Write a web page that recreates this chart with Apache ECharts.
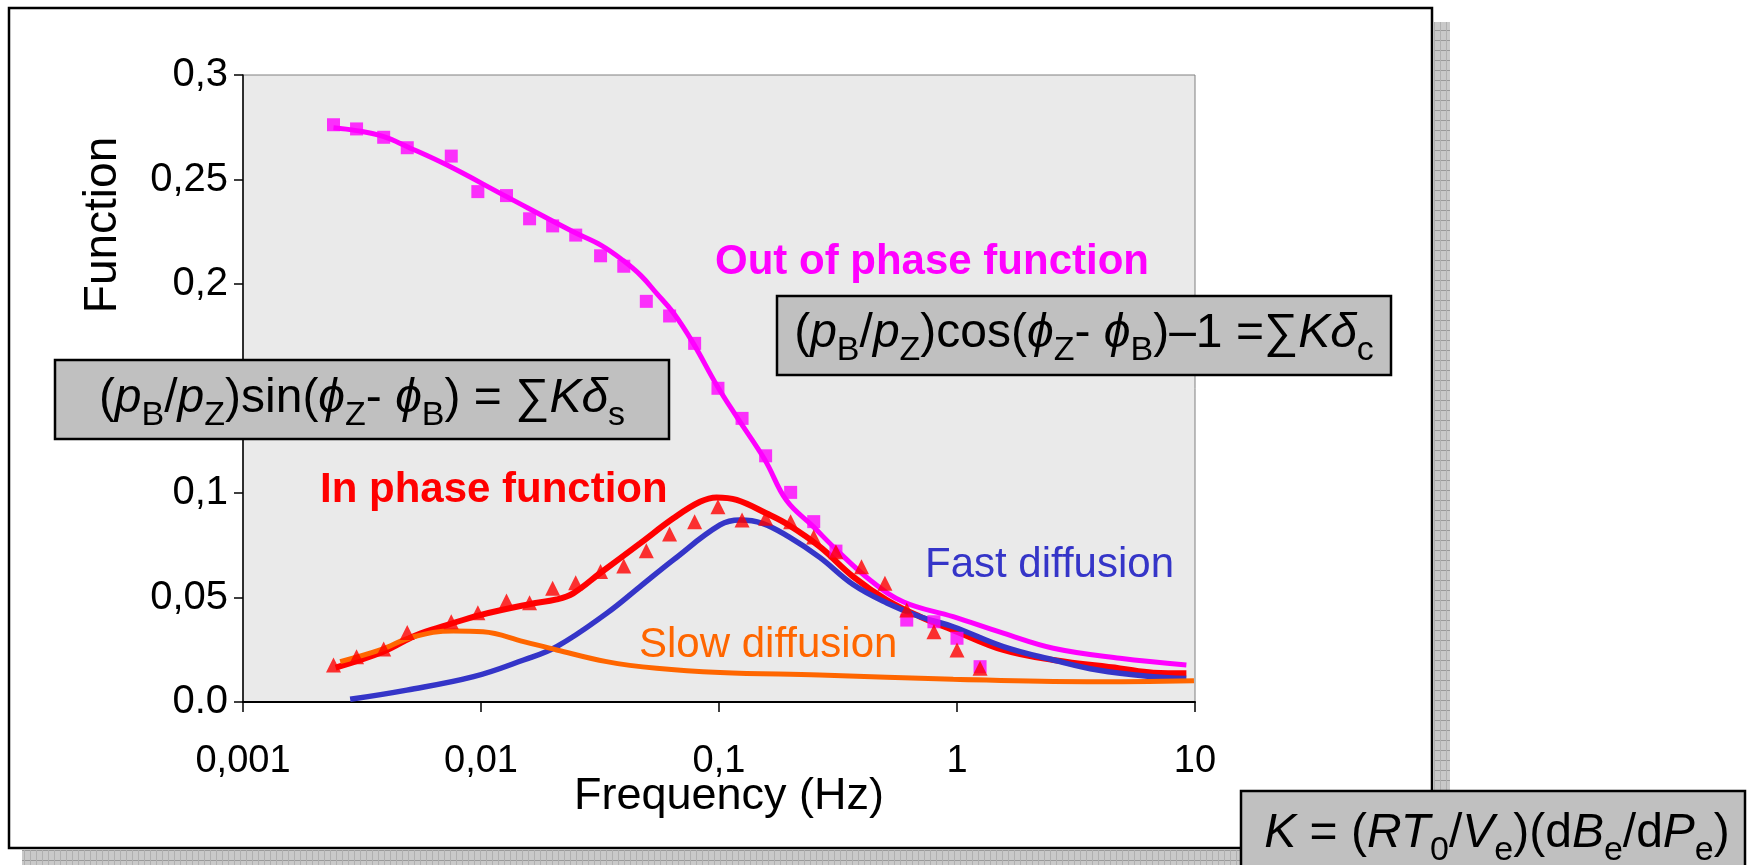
<!DOCTYPE html>
<html>
<head>
<meta charset="utf-8">
<script src="https://cdn.jsdelivr.net/npm/echarts@6/dist/echarts.min.js"></script>
<style>
  html, body { margin: 0; padding: 0; background: #ffffff; }
  #chart { width: 1747px; height: 865px; }
</style>
</head>
<body>
<div id="chart"></div>
<script>
// measured points (same frequencies for both data series)
const dataFreq = [0.0024, 0.003, 0.0039, 0.0049, 0.0075, 0.0097, 0.0128, 0.016, 0.02, 0.025, 0.0318, 0.0398, 0.0495, 0.062, 0.079, 0.099, 0.125, 0.157, 0.2, 0.25, 0.31, 0.397, 0.498, 0.615, 0.8, 1.0, 1.25];
const outPhasePoints = [0.2762, 0.2742, 0.2702, 0.2652, 0.2612, 0.2442, 0.2423, 0.2312, 0.2278, 0.2234, 0.2135, 0.2085, 0.1917, 0.1847, 0.1716, 0.1501, 0.1357, 0.1178, 0.1003, 0.0863, 0.0722, null, null, 0.0392, 0.0384, 0.0305, 0.0169];
const inPhasePoints = [0.0177, 0.0217, 0.0254, 0.0332, 0.0384, 0.0427, 0.0483, 0.0475, 0.0544, 0.0571, 0.0624, 0.0651, 0.0724, 0.0804, 0.0863, 0.0934, 0.0871, 0.0879, 0.0863, 0.079, 0.0719, 0.0647, 0.0568, 0.044, 0.0336, 0.0249, 0.0161];

// model curves
const outFitFreq = [0.0024, 0.003, 0.0039, 0.0049, 0.0072, 0.0128, 0.0244, 0.032, 0.0396, 0.047, 0.0547, 0.0643, 0.078, 0.0977, 0.1186, 0.156, 0.192, 0.249, 0.3125, 0.431, 0.594, 0.964, 1.565, 2.54, 4.84, 9.2];
const outFitVal = [0.2748, 0.2734, 0.2705, 0.2657, 0.2569, 0.2418, 0.225, 0.2185, 0.2112, 0.204, 0.1955, 0.1862, 0.1716, 0.1517, 0.1365, 0.1158, 0.0965, 0.0839, 0.0727, 0.0584, 0.048, 0.0408, 0.0329, 0.0257, 0.0209, 0.0177];

const inFitFreq = [0.00245, 0.00388, 0.00537, 0.00718, 0.0099, 0.0161, 0.0208, 0.0244, 0.0316, 0.0466, 0.0643, 0.0832, 0.0977, 0.1186, 0.158, 0.196, 0.265, 0.366, 0.507, 0.7, 0.964, 1.565, 2.54, 4.84, 6.68, 9.2];
const inFitVal = [0.0165, 0.0241, 0.0321, 0.0368, 0.0416, 0.0469, 0.0491, 0.052, 0.0616, 0.0759, 0.0879, 0.0958, 0.0979, 0.0967, 0.0903, 0.0847, 0.0743, 0.06, 0.0488, 0.0408, 0.0344, 0.0249, 0.0201, 0.0161, 0.014, 0.0137];

const fastFreq = [0.00282, 0.00488, 0.0093, 0.0151, 0.0208, 0.0337, 0.0466, 0.0643, 0.101, 0.1225, 0.152, 0.196, 0.265, 0.366, 0.507, 0.7, 0.964, 1.565, 2.54, 3.9, 6.68, 9.2];
const fastVal = [0.0013, 0.0057, 0.0121, 0.0201, 0.0265, 0.0424, 0.0552, 0.068, 0.0847, 0.0871, 0.0855, 0.0791, 0.0692, 0.0562, 0.0474, 0.0408, 0.036, 0.0265, 0.0201, 0.0153, 0.0121, 0.0113];

const slowFreq = [0.00256, 0.00377, 0.0052, 0.00766, 0.0102, 0.0151, 0.0208, 0.0337, 0.0547, 0.101, 0.265, 0.964, 3.51, 9.9];
const slowVal = [0.0193, 0.0249, 0.0312, 0.034, 0.0336, 0.0289, 0.0249, 0.0193, 0.0161, 0.0141, 0.0129, 0.0109, 0.0097, 0.0102];

const FONT = '"Liberation Sans", Arial, Helvetica, sans-serif';
const GREEK = '"Liberation Sans", "DejaVu Sans", sans-serif';

function pairs(xs, ys) {
  const out = [];
  xs.forEach((x, i) => {
    if (ys[i] != null) out.push([x, ys[i]]);
  });
  return out;
}

function shadowPattern() {
  const c = document.createElement("canvas");
  c.width = 6;
  c.height = 10;
  const ctx = c.getContext("2d");
  ctx.fillStyle = "#c9c9c9";
  ctx.fillRect(0, 0, 6, 10);
  ctx.fillStyle = "#9a9a9a";
  ctx.fillRect(0, 0, 6, 1);
  ctx.fillStyle = "#b0b0b0";
  ctx.fillRect(0, 0, 1, 10);
  return { image: c, repeat: "repeat" };
}

// subscripts sit at the bottom of a tall line, so the line height sets how low they go
const LINE_H = 68;

function richFor(size, subSize) {
  return {
    i: { fontSize: size, fontFamily: GREEK, fontStyle: "italic", lineHeight: LINE_H },
    sub: { fontSize: subSize, fontFamily: FONT, verticalAlign: "bottom" },
  };
}

function formulaBox(x, y, w, h, cx, cy, text) {
  return [
    {
      type: "rect",
      z: 100,
      shape: { x: x, y: y, width: w, height: h },
      style: { fill: "#c0c0c0", stroke: "#000", lineWidth: 2.5 },
    },
    {
      type: "text",
      z: 101,
      x: cx,
      y: cy,
      style: {
        text: text,
        fontSize: 48,
        fontFamily: FONT,
        lineHeight: LINE_H,
        fill: "#000",
        align: "center",
        verticalAlign: "middle",
        rich: richFor(48, 34),
      },
    },
  ];
}

function label(text, x, y, color, bold) {
  return {
    type: "text",
    z: 50,
    x: x,
    y: y,
    style: {
      text: text,
      fontSize: 42,
      fontFamily: FONT,
      fontWeight: bold ? "bold" : "normal",
      fill: color,
      align: "left",
      verticalAlign: "middle",
    },
  };
}

const chartElement = document.getElementById("chart");
const chart = echarts.init(chartElement);
const pattern = shadowPattern();

const option = {
  animation: false,
  backgroundColor: "#ffffff",
  grid: {
    left: 243,
    top: 75,
    width: 952,
    height: 627,
    show: true,
    backgroundColor: "#eaeaea",
    borderColor: "#808080",
    borderWidth: 1,
  },
  xAxis: {
    type: "log",
    logBase: 10,
    min: 0.001,
    max: 10,
    axisLine: { lineStyle: { color: "#000", width: 2 } },
    axisTick: { show: true, length: 10, lineStyle: { color: "#000", width: 1.5 } },
    minorTick: { show: false },
    splitLine: { show: false },
    axisLabel: {
      color: "#000",
      fontSize: 38,
      fontFamily: FONT,
      margin: 41,
      formatter: (v) => String(Number(v.toPrecision(6))).replace(".", ","),
    },
  },
  yAxis: {
    type: "value",
    min: 0,
    max: 0.3,
    interval: 0.05,
    axisLine: { show: true, lineStyle: { color: "#000", width: 1.5 } },
    axisTick: { show: true, length: 9, lineStyle: { color: "#000", width: 1.5 } },
    splitLine: { show: false },
    axisLabel: {
      color: "#000",
      fontSize: 40,
      fontFamily: FONT,
      margin: 15,
      formatter: (v) => (v === 0 ? "0.0" : String(Number(v.toFixed(2))).replace(".", ",")),
    },
  },
  series: [
    {
      name: "In phase fit",
      type: "line",
      smooth: 0.4,
      showSymbol: false,
      data: pairs(inFitFreq, inFitVal),
      lineStyle: { color: "#ff0000", width: 6 },
      z: 2,
    },
    {
      name: "Fast diffusion",
      type: "line",
      smooth: 0.4,
      showSymbol: false,
      data: pairs(fastFreq, fastVal),
      lineStyle: { color: "#3535c8", width: 5.5 },
      z: 3,
    },
    {
      name: "Slow diffusion",
      type: "line",
      smooth: 0.4,
      showSymbol: false,
      data: pairs(slowFreq, slowVal),
      lineStyle: { color: "#ff6600", width: 5 },
      z: 4,
    },
    {
      name: "Out of phase fit",
      type: "line",
      smooth: 0.4,
      showSymbol: false,
      data: pairs(outFitFreq, outFitVal),
      lineStyle: { color: "#ff00ff", width: 5 },
      z: 5,
    },
    {
      name: "Out of phase data",
      type: "scatter",
      symbol: "rect",
      symbolSize: 13,
      data: pairs(dataFreq, outPhasePoints),
      itemStyle: { color: "#ff00ff" },
      z: 6,
    },
    {
      name: "In phase data",
      type: "scatter",
      symbol: "triangle",
      symbolSize: [15, 15],
      data: pairs(dataFreq, inPhasePoints),
      itemStyle: { color: "#ff0000" },
      z: 7,
    },
  ],
  graphic: [
    {
      type: "rect",
      shape: { x: 9, y: 8, width: 1423, height: 840 },
      style: { fill: "none", stroke: "#000", lineWidth: 2.5 },
    },
    {
      type: "rect",
      shape: { x: 1434, y: 22, width: 16, height: 843 },
      style: { fill: pattern },
    },
    {
      type: "rect",
      shape: { x: 22, y: 850, width: 1428, height: 15 },
      style: { fill: pattern },
    },
    {
      type: "text",
      x: 103,
      y: 225,
      rotation: Math.PI / 2,
      style: {
        text: "Function",
        fontSize: 46,
        fontFamily: FONT,
        fill: "#000",
        align: "center",
        verticalAlign: "middle",
      },
    },
    {
      type: "text",
      x: 729,
      y: 797,
      style: {
        text: "Frequency (Hz)",
        fontSize: 45,
        fontFamily: FONT,
        fill: "#000",
        align: "center",
        verticalAlign: "middle",
      },
    },
    label("Out of phase function", 715, 262, "#ff00ff", true),
    label("In phase function", 320, 490, "#ff0000", true),
    label("Fast diffusion", 925, 565, "#3535c8", false),
    label("Slow diffusion", 639, 645, "#ff6600", false),
    ...formulaBox(55, 360, 614, 79, 362, 399,
      "({i|p}{sub|B}/{i|p}{sub|Z})sin({i|ϕ}{sub|Z}- {i|ϕ}{sub|B}) = ∑{i|Kδ}{sub|s}"),
    ...formulaBox(777, 296, 614, 79, 1084, 334,
      "({i|p}{sub|B}/{i|p}{sub|Z})cos({i|ϕ}{sub|Z}- {i|ϕ}{sub|B})–1 =∑{i|Kδ}{sub|c}"),
    ...formulaBox(1241, 791, 504, 80, 1497, 834,
      "{i|K} = ({i|RT}{sub|0}/{i|V}{sub|e})(d{i|B}{sub|e}/d{i|P}{sub|e})"),
  ],
};

chart.setOption(option);
</script>
</body>
</html>
